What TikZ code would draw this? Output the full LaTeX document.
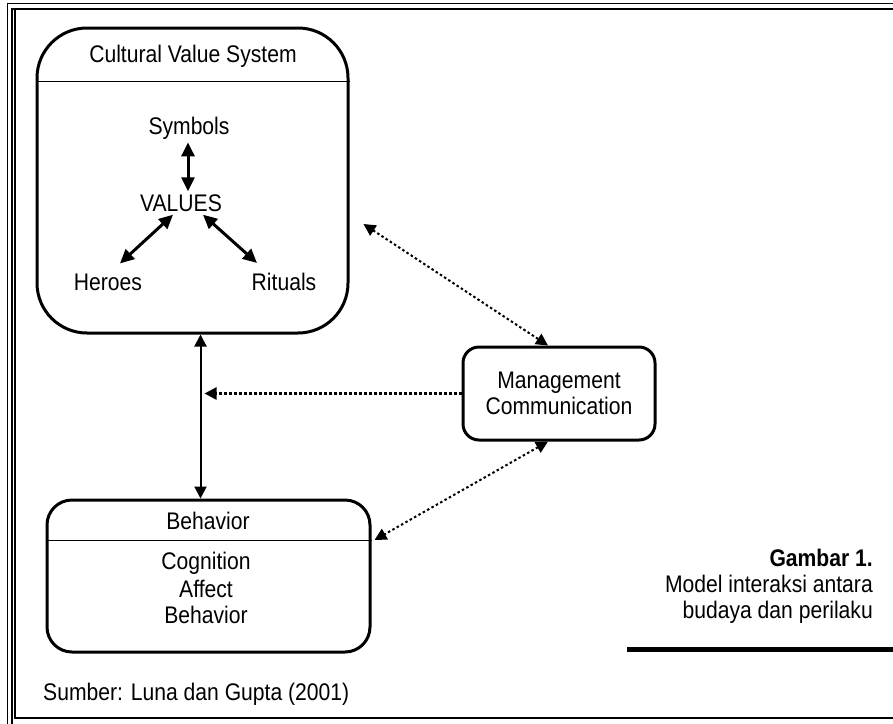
\documentclass[tikz,border=0pt]{standalone}
\usepackage{fontspec}
\setmainfont[FakeStretch=0.88]{Liberation Sans}
\usetikzlibrary{arrows.meta}

\tikzset{
  roundbox/.style={draw, line width=3pt, rounded corners=#1, inner sep=0pt},
  lbl/.style={inner sep=3pt, font=\fontsize{24}{26}\selectfont},
  biarrow/.style={{Triangle[length=14pt,width=13pt]}-{Triangle[length=14pt,width=13pt]}, line width=3pt},
  linkarrow/.style={{Triangle[length=12pt,width=12pt]}-{Triangle[length=12pt,width=12pt]}, line width=2pt},
  dotarrow/.style={line width=2.5pt, dash pattern=on 2.5pt off 2.5pt}
}

\begin{document}
\begin{tikzpicture}[x=1pt,y=-1pt]
    \useasboundingbox (0,0) rectangle (893,723);
    \clip (0,0) rectangle (893,723);

    \draw [line width=1.5pt] (7.5,3.5) rectangle (920,760);
    \draw [line width=2pt] (11.5,9) rectangle (920,760);
    \draw [line width=1.5pt] (15,10) -- (15,718) -- (920,718);

    \node [roundbox=50pt, minimum width=311pt, minimum height=305pt] (cvs) at (192.5,180.5) {};
    \draw [line width=1.5pt] ([yshift=-55pt]cvs.north west) -- ([yshift=-55pt]cvs.north east);
    \node [lbl] (cvstitle) at (193,56) {Cultural Value System};

    \node [lbl] (symbols) at (189,128) {Symbols};
    \node [lbl] (values) at (181,203) {VALUES};
    \node [lbl] (heroes) at (108,282) {Heroes};
    \node [lbl] (rituals) at (284,282) {Rituals};

    \draw [biarrow] ([xshift=-1pt]symbols.south) -- ([xshift=7pt]values.north);
    \draw [biarrow] ([xshift=12pt,yshift=7pt]heroes.north) -- ([xshift=-8pt]values.south);
    \draw [biarrow] ([xshift=-27pt,yshift=7pt]rituals.north) -- ([xshift=22pt]values.south);

    \node [roundbox=16pt, minimum width=192pt, minimum height=93pt, lbl, align=center] (mgmt) at (559,393.5) {Management\\Communication};

    \node [roundbox=25pt, minimum width=323pt, minimum height=152pt] (beh) at (208.5,576) {};
    \draw [line width=1.5pt] ([yshift=-42pt]beh.north west) -- ([yshift=-42pt]beh.north east);
    \node [lbl] (behtitle) at (208,521) {Behavior};
    \node [lbl] (cognition) at (206,563) {Cognition};
    \node [lbl] (affect) at (206,589) {Affect};
    \node [lbl] (behavior) at (206,615) {Behavior};

    \draw [linkarrow] ([xshift=8pt]cvs.south) -- ([xshift=8pt]cvs.south |- beh.north);

    \draw [dotarrow, linkarrow] ([xshift=14pt,yshift=-43.5pt]cvs.east) -- ([xshift=-11pt]mgmt.north);
    \draw [dotarrow, -{Triangle[length=12pt,width=12pt]}] (mgmt.west) -- ([xshift=12pt]cvs.south |- mgmt.west);
    \draw [dotarrow, linkarrow] ([xshift=-11pt]mgmt.south) -- ([xshift=3pt,yshift=36pt]beh.east);

    \node [lbl, anchor=east, align=right] (caption) at (876,586) {\textbf{Gambar 1.}\\Model interaksi antara\\budaya dan perilaku};
    \draw [line width=5pt] (627,649.5) -- (893,649.5);

    \node [lbl, anchor=west] (source) at (40,694) {Sumber: Luna dan Gupta (2001)};
\end{tikzpicture}
\end{document}
